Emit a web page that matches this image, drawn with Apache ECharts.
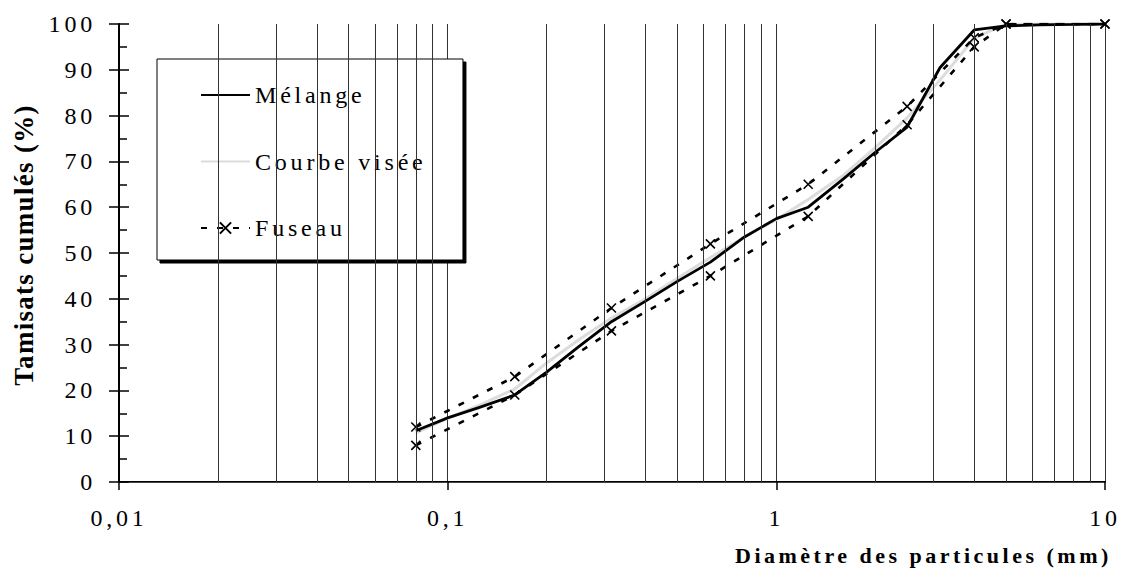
<!DOCTYPE html>
<html>
<head>
<meta charset="utf-8">
<script src="https://cdn.jsdelivr.net/npm/echarts@6.0.0/dist/echarts.min.js"></script>
<style>
  html, body { margin: 0; padding: 0; background: #fff; }
  #chart { width: 1137px; height: 574px; }
  #chart svg text { letter-spacing: 3.8px; }
</style>
</head>
<body>
<div id="chart"></div>
<script>
// ---- data ----
const sieveX = [0.08, 0.1, 0.125, 0.16, 0.2, 0.25, 0.315, 0.4, 0.5, 0.63, 0.8, 1, 1.25, 1.6, 2, 2.5, 3.15, 4, 5, 6.3, 8, 10];
const melangeY = [11.2, 14, 16.3, 19, 24, 29.5, 35, 39.5, 43.8, 48, 53.5, 57.5, 60, 66.2, 72, 77.5, 90.5, 98.7, 99.6, 99.8, 99.9, 100];
const viseeY = [10.7, 13.9, 16.8, 20.3, 26, 31, 35.8, 40, 44.5, 49, 53.5, 57.3, 61.7, 67, 73, 79.5, 87.8, 96.9, 100, 100, 100, 100];
const fuseauX = [0.08, 0.16, 0.315, 0.63, 1.25, 2.5, 4, 5, 10];
const fuseauMax = [12, 23, 38, 52, 65, 82, 97, 100, 100];
const fuseauMin = [8, 19, 33, 45, 58, 78, 95, 100, 100];
const minorGridX = [0.02, 0.03, 0.04, 0.05, 0.06, 0.07, 0.08, 0.09,
                    0.2, 0.3, 0.4, 0.5, 0.6, 0.7, 0.8, 0.9,
                    2, 3, 4, 5, 6, 7, 8, 9];
const seriesNames = ['Mélange', 'Courbe visée', 'Fuseau'];
const xTitle = 'Diamètre des particules (mm)';
const yTitle = 'Tamisats cumulés (%)';

const pairs = (xs, ys) => xs.map((x, i) => [x, ys[i]]);
const serif = '"Liberation Serif", "Times New Roman", serif';
const crossPath = 'path://M0,0L10,10M10,0L0,10';
const hiddenMark = { color: 'rgba(0,0,0,0)', borderWidth: 0, borderColor: 'rgba(0,0,0,0)' };

const chart = echarts.init(document.getElementById('chart'), null, { renderer: 'svg' });

const fuseauStyle = {
  type: 'line',
  name: seriesNames[2],
  symbol: crossPath,
  symbolSize: 9,
  z: 3,
  lineStyle: { color: '#000', width: 2.6, type: [6, 10] },
  itemStyle: { color: 'rgba(0,0,0,0)', borderColor: '#000', borderWidth: 1.6 }
};

chart.on('finished', function () {
  document.querySelectorAll('#chart svg text').forEach(function (t) {
    if (t.textContent === yTitle) t.style.letterSpacing = '1.3px';
    if (t.textContent === xTitle) t.style.letterSpacing = '3.5px';
  });
});

chart.setOption({
  animation: false,
  backgroundColor: '#fff',
  grid: { left: 119, right: 32, top: 24, bottom: 92 },
  xAxis: [
    {
      type: 'log', logBase: 10, min: 0.01, max: 10, position: 'bottom',
      axisLine: { show: true, lineStyle: { color: '#000', width: 2 } },
      axisTick: { show: true, inside: false, length: 8, lineStyle: { color: '#000', width: 1.5 } },
      axisLabel: {
        show: true, margin: 24, color: '#000', fontFamily: serif, fontSize: 24,
        formatter: v => String(Number(v.toPrecision(6))).replace('.', ',')
      },
      splitLine: { show: true, lineStyle: { color: '#333', width: 1 } },
      minorTick: { show: false }
    },
    {
      type: 'log', logBase: 10, min: 0.01, max: 10, position: 'top',
      axisLine: { show: true, lineStyle: { color: '#444', width: 1 } },
      axisTick: { show: false }, axisLabel: { show: false }, splitLine: { show: false }
    }
  ],
  yAxis: [
    {
      type: 'value', min: 0, max: 100, interval: 10, position: 'left',
      axisLine: { show: true, lineStyle: { color: '#000', width: 2 } },
      axisTick: { show: true, inside: true, length: 10, lineStyle: { color: '#000', width: 1.5 } },
      minorTick: { show: true, splitNumber: 2, length: 8, lineStyle: { color: '#000', width: 1.5 } },
      axisLabel: { show: false },
      splitLine: { show: false }
    },
    {
      type: 'value', min: 0, max: 100, interval: 10, position: 'left', offset: 0,
      axisLine: { show: false },
      axisTick: { show: true, inside: false, length: 10, lineStyle: { color: '#000', width: 1.5 } },
      axisLabel: { show: true, margin: 23, color: '#000', fontFamily: serif, fontSize: 24 },
      splitLine: { show: false }
    }
  ],
  legend: {
    data: seriesNames,
    orient: 'vertical',
    left: 157, top: 59,
    padding: [24, 82, 20, 43],
    itemWidth: 49, itemHeight: 14, itemGap: 42.5,
    backgroundColor: '#fff',
    borderColor: '#000', borderWidth: 1,
    shadowColor: '#000', shadowBlur: 0, shadowOffsetX: 3, shadowOffsetY: 3,
    textStyle: { color: '#000', fontFamily: serif, fontSize: 24, lineHeight: 22 },
    selectedMode: false
  },
  graphic: [
    {
      type: 'text', left: 735, top: 544,
      style: { text: xTitle, font: 'bold 22px ' + serif, fill: '#000' }
    },
    {
      type: 'text', x: 24, y: 245, rotation: Math.PI / 2,
      style: { text: yTitle, font: 'bold 27px ' + serif, fill: '#000', align: 'center', verticalAlign: 'middle' }
    }
  ],
  series: [
    {
      type: 'line', name: '__grid', data: [], z: 1, silent: true,
      markLine: {
        silent: true, symbol: ['none', 'none'], label: { show: false },
        lineStyle: { color: '#333', width: 1, type: 'solid' },
        emphasis: { disabled: true },
        data: minorGridX.map(v => ({ xAxis: v }))
      }
    },
    {
      type: 'line', name: seriesNames[1], data: pairs(sieveX, viseeY),
      symbol: 'circle', showSymbol: false, z: 2,
      lineStyle: { color: '#dcdcdc', width: 3 }, itemStyle: hiddenMark
    },
    Object.assign({ data: pairs(fuseauX, fuseauMax) }, fuseauStyle),
    Object.assign({ data: pairs(fuseauX, fuseauMin) }, fuseauStyle),
    {
      type: 'line', name: seriesNames[0], data: pairs(sieveX, melangeY),
      symbol: 'circle', showSymbol: false, z: 4,
      lineStyle: { color: '#000', width: 2.8 }, itemStyle: hiddenMark
    }
  ]
});
</script>
</body>
</html>
